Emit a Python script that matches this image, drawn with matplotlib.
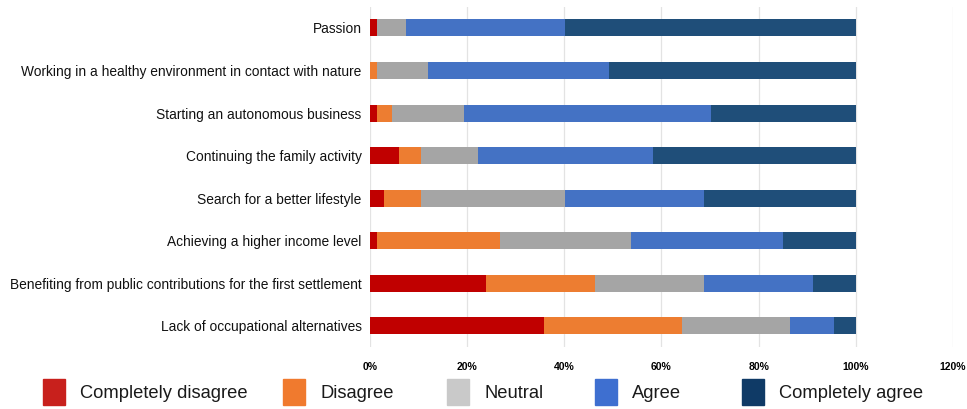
import matplotlib
matplotlib.use("Agg")
import matplotlib.pyplot as plt
from matplotlib.patches import Rectangle
from matplotlib.ticker import FuncFormatter
import numpy as np

# Motivations (top to bottom as shown)
categories = [
    "Passion",
    "Working in a healthy environment in contact with nature",
    "Starting an autonomous business",
    "Continuing the family activity",
    "Search for a better lifestyle",
    "Achieving a higher income level",
    "Benefiting from public contributions for the first settlement",
    "Lack of occupational alternatives",
]

# Shares of answers (%)
completely_disagree = [1.4, 0.0, 1.4, 6.0, 2.9, 1.4, 23.8, 35.8]
disagree = [0.0, 1.4, 3.1, 4.5, 7.6, 25.4, 22.5, 28.4]
neutral = [6.0, 10.5, 14.8, 11.8, 29.7, 26.9, 22.4, 22.3]
agree = [32.8, 37.4, 50.8, 35.9, 28.5, 31.4, 22.4, 9.0]
completely_agree = [59.8, 50.7, 29.9, 41.8, 31.3, 14.9, 8.9, 4.5]

levels = ["Completely disagree", "Disagree", "Neutral", "Agree", "Completely agree"]
bar_colors = ["#C00000", "#ED7D31", "#A5A5A5", "#4472C4", "#1F4E79"]
legend_colors = ["#C8201C", "#F07A2E", "#C9C9C9", "#3E6FD0", "#0F3A66"]

series = [completely_disagree, disagree, neutral, agree, completely_agree]

fig = plt.figure(figsize=(9.67, 4.09), dpi=100)
ax = fig.add_axes([0.3826, 0.1516, 0.6029, 0.832])

y = np.arange(len(categories))
left = np.zeros(len(categories))
for vals, col in zip(series, bar_colors):
    vals = np.array(vals)
    ax.barh(y, vals, left=left, height=0.4, color=col, zorder=3)
    left += vals

ax.set_ylim(len(categories) - 0.5, -0.5)
ax.set_xlim(0, 120)
ax.set_xticks(np.arange(0, 121, 20))
ax.xaxis.set_major_formatter(FuncFormatter(lambda v, p: f"{int(v)}%"))
ax.set_yticks(y)
ax.set_yticklabels(categories, fontsize=9.9, family="Liberation Sans", color="#111111")
for lab in ax.get_xticklabels():
    lab.set_family("Liberation Sans")
    lab.set_fontweight("bold")
    lab.set_fontsize(7.5)
ax.tick_params(axis="x", length=0, pad=11)
ax.tick_params(axis="y", length=0, pad=6)
ax.grid(axis="x", color="#E3E3E3", linewidth=0.9, zorder=0)
for s in ax.spines.values():
    s.set_visible(False)

# legend row at the bottom
starts = [43, 283, 447, 595, 742]
for x0, name, col in zip(starts, levels, legend_colors):
    fig.add_artist(Rectangle((x0 / 967, 1 - 405 / 409), 22 / 967, 26 / 409,
                             transform=fig.transFigure, color=col))
    fig.text((x0 + 37) / 967, 1 - 393 / 409, name, fontsize=13.2,
             family="Liberation Sans", va="center", ha="left", color="#1A1A1A")

fig.savefig("out.png", dpi=100)
